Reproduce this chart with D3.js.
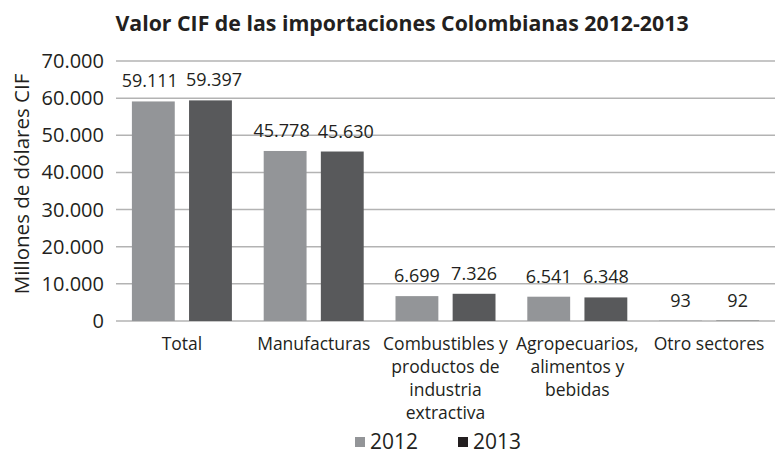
<!DOCTYPE html>
<html>
<head>
<meta charset="utf-8">
<script src="https://cdn.jsdelivr.net/npm/d3@7"></script>
<style>
  body { margin: 0; background: #fff; }
  text { font-family: "Open Sans", sans-serif; fill: #231f20; }
  .grid line { stroke: #b3b3b3; stroke-width: 1.5; }
  .title { font-weight: bold; font-size: 21.3px; }
</style>
</head>
<body>
<svg width="775" height="455"></svg>
<script>
var categories = ['Total', 'Manufacturas', 'Combustibles y|productos de|industria|extractiva', 'Agropecuarios,|alimentos y|bebidas', 'Otro sectores'];
var years = ['2012', '2013'];
var values2012 = [59111, 45778, 6699, 6541, 93];
var values2013 = [59397, 45630, 7326, 6348, 92];
var yTicks = [0, 10000, 20000, 30000, 40000, 50000, 60000, 70000];

var colors = { '2012': '#939598', '2013': '#58595b' };
var legendColors = { '2012': '#939598', '2013': '#231f20' };

var svg = d3.select('svg');
var margin = { top: 61, right: 0, bottom: 134, left: 116 };
var width = 775 - margin.left - margin.right;
var height = 455 - margin.top - margin.bottom;

var fmt = d3.formatLocale({ decimal: ',', thousands: '.', grouping: [3], currency: ['$', ''] }).format(',d');

var x0 = d3.scaleBand()
           .domain(categories)
           .range([0, width]);
var x1 = d3.scaleBand()
           .domain(years)
           .range([x0.bandwidth() / 2 - 50, x0.bandwidth() / 2 + 50])
           .paddingInner(0.25);
var y = d3.scaleLinear()
          .domain([0, 70000])
          .range([height, 0]);

var g = svg.append('g')
           .attr('transform', 'translate(' + margin.left + ',' + margin.top + ')');

g.append('g')
  .attr('class', 'grid')
  .selectAll('line')
  .data(yTicks)
  .enter()
  .append('line')
    .attr('x1', 0)
    .attr('x2', width)
    .attr('y1', d => y(d))
    .attr('y2', d => y(d));

g.append('g')
  .selectAll('text')
  .data(yTicks)
  .enter()
  .append('text')
    .attr('x', -12)
    .attr('y', d => y(d))
    .attr('dy', '0.35em')
    .attr('text-anchor', 'end')
    .style('font-size', '20px')
    .text(d => fmt(d));

var rows = categories.map((c, i) => ({ cat: c, vals: [
  { year: '2012', v: values2012[i] },
  { year: '2013', v: values2013[i] }
] }));

var groups = g.selectAll('g.cat')
  .data(rows)
  .enter()
  .append('g')
    .attr('class', 'cat')
    .attr('transform', d => 'translate(' + x0(d.cat) + ',0)');

groups.selectAll('rect')
  .data(d => d.vals)
  .enter()
  .append('rect')
    .attr('x', d => x1(d.year))
    .attr('width', x1.bandwidth())
    .attr('y', d => y(d.v))
    .attr('height', d => height - y(d.v))
    .style('fill', d => colors[d.year]);

groups.each(function() {
  var labels = d3.select(this)
    .selectAll('text.val')
    .data(d => d.vals)
    .enter()
    .append('text')
      .attr('class', 'val')
      .attr('x', d => x1(d.year) + x1.bandwidth() / 2)
      .attr('y', d => y(d.v) - 14)
      .attr('text-anchor', 'middle')
      .style('font-size', '18px')
      .text(d => fmt(d.v));

  // push the pair apart when they would touch
  var nodes = labels.nodes();
  var w0 = nodes[0].getComputedTextLength(), w1 = nodes[1].getComputedTextLength();
  var c0 = x1('2012') + x1.bandwidth() / 2, c1 = x1('2013') + x1.bandwidth() / 2;
  var gap = (c1 - w1 / 2) - (c0 + w0 / 2);
  if (gap < 8) {
    var shift = (8 - gap) / 2;
    d3.select(nodes[0]).attr('x', c0 - shift);
    d3.select(nodes[1]).attr('x', c1 + shift);
  }
});

groups.append('text')
  .attr('x', x0.bandwidth() / 2)
  .attr('y', height + 29)
  .attr('text-anchor', 'middle')
  .style('font-size', '17.5px')
  .selectAll('tspan')
  .data(d => d.cat.split('|'))
  .enter()
  .append('tspan')
    .attr('x', x0.bandwidth() / 2)
    .attr('dy', (d, i) => i ? 23 : 0)
    .text(d => d);

svg.append('text')
  .attr('class', 'title')
  .attr('x', 402)
  .attr('y', 31)
  .attr('text-anchor', 'middle')
  .text('Valor CIF de las importaciones Colombianas 2012-2013');

svg.append('text')
  .attr('transform', 'translate(29,184) rotate(-90)')
  .attr('text-anchor', 'middle')
  .style('font-size', '20.5px')
  .text('Millones de dólares CIF');

var legend = svg.append('g')
  .selectAll('g')
  .data(years)
  .enter()
  .append('g')
    .attr('transform', (d, i) => 'translate(' + (355 + i * 103) + ',0)');

legend.append('rect')
  .attr('x', 0)
  .attr('y', 437)
  .attr('width', 10)
  .attr('height', 10)
  .style('fill', d => legendColors[d]);

legend.append('text')
  .attr('x', 15)
  .attr('y', 449)
  .style('font-size', '21px')
  .text(d => d);
</script>
</body>
</html>
